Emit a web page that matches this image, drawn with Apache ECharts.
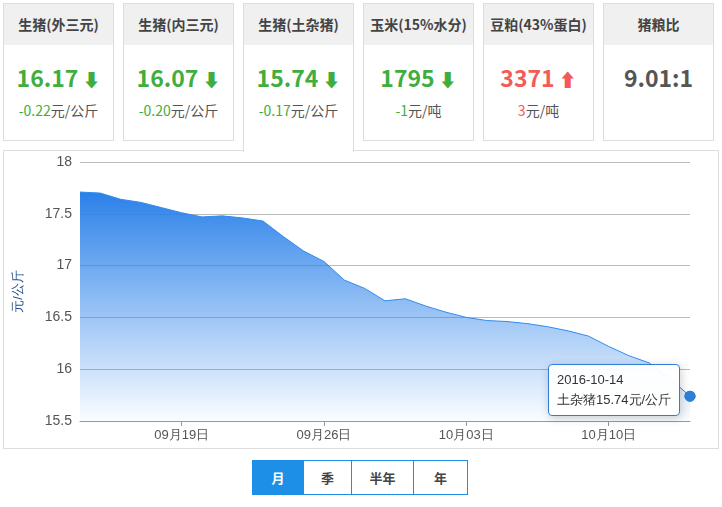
<!DOCTYPE html>
<html>
<head>
<meta charset="utf-8" />
<title>土杂猪价格</title>
<script src="https://cdn.jsdelivr.net/npm/echarts@6/dist/echarts.min.js"></script>
<style>
body{margin:0;width:722px;height:507px;background:#fff;font-family:"Microsoft YaHei","Noto Sans CJK SC",sans-serif;position:relative;overflow:hidden}
.card{position:absolute;top:3px;width:109px;height:136px;border:1px solid #ddd;background:#fff;text-align:center}
.card .hd{height:41px;line-height:41px;background:#f0f0f0;color:#444;font-size:14px;font-weight:bold}
.card .v{margin-top:17px;font-size:23px;font-weight:bold;height:30px;line-height:30px}
.card .c{margin-top:8px;font-size:14px;color:#555}
.card.on{height:148px;border-bottom:none;z-index:2}
.g{color:#3fae3f}.r{color:#f55a5a}.k{color:#555}
#panel{position:absolute;left:3px;top:150px;width:714px;height:297px;border:1px solid #ddd}
#main{position:absolute;left:0;top:0;width:722px;height:507px}
.btns{position:absolute;left:252px;top:460px;height:33px;display:flex;border:1px solid #1e8fe6;z-index:3}
.btns span{display:block;line-height:33px;text-align:center;font-size:13px;font-weight:bold;color:#444;border-left:1px solid #1e8fe6;background:#fff}
.btns span:first-child{border-left:none;background:#1e8fe6;color:#fff}
</style>
</head>
<body>
<div id="cards"></div>
<div id="panel"></div>
<div id="main"></div>
<div class="btns"><span style="width:50px">月</span><span style="width:47px">季</span><span style="width:61px">半年</span><span style="width:53px">年</span></div>
<script>
// 顶部卡片
var cardNames = ['生猪(外三元)','生猪(内三元)','生猪(土杂猪)','玉米(15%水分)','豆粕(43%蛋白)','猪粮比'];
var cardValues = ['16.17','16.07','15.74','1795','3371','9.01:1'];
var cardChanges = ['-0.22','-0.20','-0.17','-1','3',''];
var cardUnits = ['元/公斤','元/公斤','元/公斤','元/吨','元/吨',''];
var cardTrend = ['g','g','g','g','r','k'];
var cardLeft = [3,123,243,363,483,603];

// 土杂猪日价格 2016-09-14 ~ 2016-10-14
var dates = ['2016-09-14','2016-09-15','2016-09-16','2016-09-17','2016-09-18','2016-09-19','2016-09-20','2016-09-21','2016-09-22','2016-09-23','2016-09-24','2016-09-25','2016-09-26','2016-09-27','2016-09-28','2016-09-29','2016-09-30','2016-10-01','2016-10-02','2016-10-03','2016-10-04','2016-10-05','2016-10-06','2016-10-07','2016-10-08','2016-10-09','2016-10-10','2016-10-11','2016-10-12','2016-10-13','2016-10-14'];
var prices = [17.71,17.70,17.64,17.61,17.56,17.51,17.47,17.48,17.46,17.43,17.28,17.14,17.04,16.86,16.78,16.66,16.68,16.61,16.55,16.50,16.47,16.46,16.44,16.41,16.37,16.32,16.22,16.13,16.06,15.91,15.74];

var html = '';
cardNames.forEach(function(n,i){
  var arrow = cardTrend[i]=='g' ? ' ⬇' : (cardTrend[i]=='r' ? ' ⬆' : '');
  html += '<div class="card'+(i==2?' on':'')+'" style="left:'+cardLeft[i]+'px">'+
    '<div class="hd">'+n+'</div>'+
    '<div class="v '+cardTrend[i]+'">'+cardValues[i]+'<span style="font-size:18px">'+arrow+'</span></div>'+
    '<div class="c"><span class="'+cardTrend[i]+'">'+cardChanges[i]+'</span>'+cardUnits[i]+'</div></div>';
});
document.getElementById('cards').innerHTML = html;

var mychart = echarts.init(document.getElementById('main'));
mychart.setOption({
  animation:false,
  grid:{left:80,right:32,top:162,bottom:86},
  tooltip:{
    trigger:'axis',
    alwaysShowContent:true,
    position:[548,364],
    backgroundColor:'rgba(255,255,255,0.95)',
    borderColor:'#2e7fd8',
    borderWidth:1,
    padding:[5,8],
    textStyle:{color:'#333',fontSize:13},
    axisPointer:{type:'none'},
    formatter:function(p){return p[0].name+'<br/>土杂猪'+p[0].value+'元/公斤';}
  },
  xAxis:{
    type:'category',
    boundaryGap:false,
    data:dates,
    axisLine:{lineStyle:{color:'#999'}},
    axisTick:{alignWithLabel:true,interval:function(i){return i%7==5;},lineStyle:{color:'#999'}},
    axisLabel:{
      color:'#555',fontSize:13,
      interval:function(i){return i%7==5;},
      formatter:function(v){return v.slice(5,7)+'月'+v.slice(8)+'日';}
    }
  },
  yAxis:{
    type:'value',min:15.5,max:18,interval:0.5,
    name:'元/公斤',nameLocation:'middle',nameGap:55,
    nameTextStyle:{color:'#1f4f8f',fontSize:13},
    axisLine:{show:false},axisTick:{show:false},
    axisLabel:{color:'#555',fontSize:14,formatter:function(v){return String(v);}},
    splitLine:{lineStyle:{color:'#bbb'}}
  },
  series:[{
    name:'土杂猪',type:'line',data:prices,
    symbol:'circle',symbolSize:10,
    showSymbol:false,
    lineStyle:{color:'#2e7fd8',width:1},
    itemStyle:{color:'#2e7fd8'},
    areaStyle:{opacity:1,color:new echarts.graphic.LinearGradient(0,0,0,1,[{offset:0,color:'#2775d4'},{offset:1,color:'rgba(42,122,214,0.02)'}])},
    markPoint:{symbol:'circle',symbolSize:11,label:{show:false},itemStyle:{color:'#2e7fd8'},data:[{coord:[30,15.74]}]}
  }]
});
mychart.dispatchAction({type:'showTip',seriesIndex:0,dataIndex:30});
</script>
</body>
</html>
